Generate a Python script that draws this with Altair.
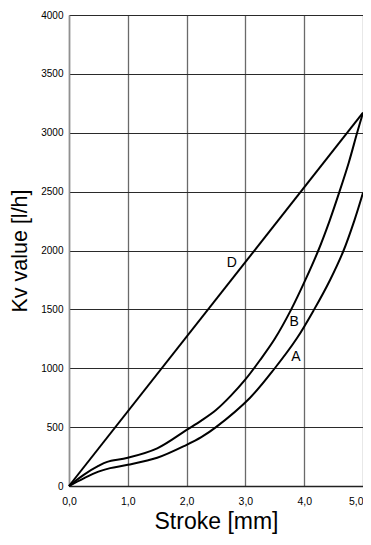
import altair as alt
import pandas as pd

# Curve A (stroke mm, Kv l/h)
stroke_A = [0.0, 0.25, 0.5, 0.7, 1.0, 1.5, 2.0, 2.25, 2.5, 3.08, 3.5, 3.87, 4.17, 4.44, 4.67, 4.85, 5.0]
kv_A = [0, 65, 122, 152, 180, 240, 350, 415, 500, 750, 1000, 1250, 1500, 1750, 2000, 2250, 2490]

# Curve B
stroke_B = [0.0, 0.25, 0.5, 0.65, 1.0, 1.5, 2.0, 2.25, 2.5, 2.75, 3.0, 3.25, 3.5, 3.78, 4.02, 4.24, 4.43, 4.6, 4.76, 4.9, 5.0]
kv_B = [0, 95, 170, 205, 240, 320, 476, 555, 645, 765, 905, 1070, 1250, 1500, 1750, 2000, 2250, 2500, 2750, 3000, 3170]

# Curve D (linear)
stroke_D = [0.0, 5.0]
kv_D = [0, 3170]

# Curve labels
label_names = ["D", "B", "A"]
label_x = [2.77, 3.83, 3.86]
label_y = [1894, 1393, 1096]

x_grid = [0, 0.5, 1, 1.5, 2, 2.5, 3, 3.5, 4, 4.5, 5]
y_grid = list(range(0, 4001, 250))

rows = []
for name, xs, ys in (("A", stroke_A, kv_A), ("B", stroke_B, kv_B), ("D", stroke_D, kv_D)):
    for x, y in zip(xs, ys):
        rows.append({"curve": name, "stroke": x, "kv": y})
df = pd.DataFrame(rows)
labels = pd.DataFrame({"name": label_names, "stroke": label_x, "kv": label_y})

FONT = "Liberation Sans"

x_enc = alt.X(
    "stroke:Q",
    scale=alt.Scale(domain=[0, 5], nice=False),
    axis=alt.Axis(
        values=x_grid,
        labelExpr="datum.value % 1 == 0 ? replace(format(datum.value, '.1f'), '.', ',') : ''",
        labelAlign={"expr": "datum.value == 5 ? 'right' : 'center'"},
        title="Stroke [mm]",
        grid=True,
        gridColor="#6a6a6a",
        gridWidth=1.3,
        ticks=False,
        labelPadding=10,
        titlePadding=4,
        labelFontSize=10.5,
        titleFontSize=23,
        titleFontWeight="normal",
        labelFlush=False,
        labelOverlap=False,
        domainColor="#222222",
        domainWidth=1.5,
        labelColor="#000000",
        titleColor="#000000",
    ),
)
y_enc = alt.Y(
    "kv:Q",
    scale=alt.Scale(domain=[0, 4000], nice=False),
    axis=alt.Axis(
        values=y_grid,
        labelExpr="datum.value % 500 == 0 ? format(datum.value, 'd') : ''",
        title="Kv value [l/h]",
        grid=True,
        gridColor="#2a2a2a",
        gridWidth=1,
        ticks=False,
        labelPadding=6,
        titlePadding=9,
        labelFontSize=10,
        titleFontSize=21.5,
        titleFontWeight="normal",
        labelFlush=False,
        labelOverlap=False,
        domainColor="#909090",
        domainWidth=1.5,
        labelColor="#000000",
        titleColor="#000000",
    ),
)

lines = alt.Chart(df).mark_line(
    color="black", strokeWidth=2, interpolate="catmull-rom"
).encode(x=x_enc, y=y_enc, detail="curve:N")

texts = alt.Chart(labels).mark_text(
    fontSize=14, font=FONT, color="black", align="center", baseline="middle"
).encode(x="stroke:Q", y="kv:Q", text="name:N")

chart = (
    alt.layer(lines, texts)
    .properties(
        width=294,
        height=471,
        autosize=alt.AutoSizeParams(type="none"),
        padding={"left": 61, "top": 7, "right": 0, "bottom": 51},
    )
    .configure(font=FONT)
    .configure_view(stroke=None)
)

chart.save("out.html", embed_options={"renderer": "svg", "actions": False})
